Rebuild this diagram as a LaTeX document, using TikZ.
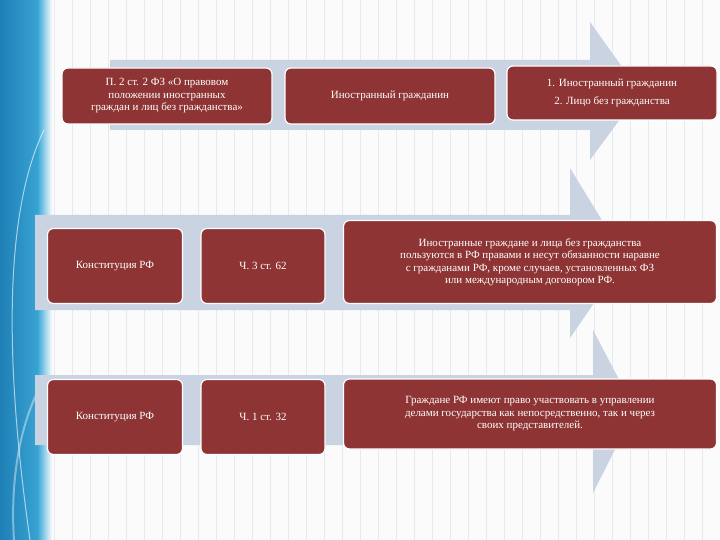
\documentclass[tikz,border=0pt]{standalone}
\usepackage{fontspec}
\setmainfont{Liberation Serif}
\begin{document}
\begin{tikzpicture}[x=1pt,y=-1pt,
  box/.style={draw=white,line width=1.2pt,fill=boxred,rounded corners=6pt,text=white,align=center,font=\fontsize{11}{12.5}\selectfont,inner sep=2pt},
  arr/.style={fill=arrowgray,draw=none}]
\definecolor{boxred}{HTML}{8E3434}
\definecolor{arrowgray}{HTML}{C9D3E1}
\definecolor{gridc}{HTML}{E6EAEE}
\definecolor{bluel}{HTML}{3DA9D8}
\definecolor{blued}{HTML}{1E7FB5}
\useasboundingbox (0,0) rectangle (720,540);
\fill[white!97!gray] (0,0) rectangle (720,540);
\draw[gridc,line width=0.5pt] (40,0) grid[step=18] (720,540);
% left strip
\shade[left color=blued,right color=bluel] (0,0) rectangle (44,540);
\shade[left color=bluel,right color=white!97!gray] (38,0) rectangle (52,540);
\draw[white,opacity=0.6,line width=1pt] (44,130) .. controls (10,200) and (0,330) .. (30,540);
\draw[white,opacity=0.4,line width=2pt] (44,380) .. controls (20,420) and (10,480) .. (14,540);
% arrows
\fill[arr] (110,60) -- (590,60) -- (590,22) -- (640,92) -- (590,160) -- (590,130) -- (110,130) -- cycle;
\fill[arr] (35,215) -- (570,215) -- (570,168) -- (625,258) -- (570,338) -- (570,310) -- (35,310) -- cycle;
\fill[arr] (35,375) -- (593,375) -- (593,330) -- (635,410) -- (593,493) -- (593,445) -- (35,445) -- cycle;
% boxes
\node[box,minimum width=210,minimum height=56] (a1) at (167,96) {П. 2 ст. 2 ФЗ «О правовом\\положении иностранных\\граждан и лиц без гражданства»};
\node[box,minimum width=210,minimum height=56] (a2) at (390,96) {Иностранный гражданин};
\node[box,minimum width=210,minimum height=54] (a3) at (612,93) {1. Иностранный гражданин\\[5pt]2. Лицо без гражданства};
\node[box,minimum width=135,minimum height=75] (b1) at (115,266) {Конституция РФ};
\node[box,minimum width=124,minimum height=75] (b2) at (263,266) {Ч. 3 ст. 62};
\node[box,minimum width=373,minimum height=83] (b3) at (530,262) {Иностранные граждане и лица без гражданства\\пользуются в РФ правами и несут обязанности наравне\\с гражданами РФ, кроме случаев, установленных ФЗ\\или международным договором РФ.};
\node[box,minimum width=135,minimum height=75] (c1) at (115,417) {Конституция РФ};
\node[box,minimum width=124,minimum height=75] (c2) at (263,417) {Ч. 1 ст. 32};
\node[box,minimum width=373,minimum height=70] (c3) at (530,414) {Граждане РФ имеют право участвовать в управлении\\делами государства как непосредственно, так и через\\своих представителей.};
\end{tikzpicture}
\end{document}
